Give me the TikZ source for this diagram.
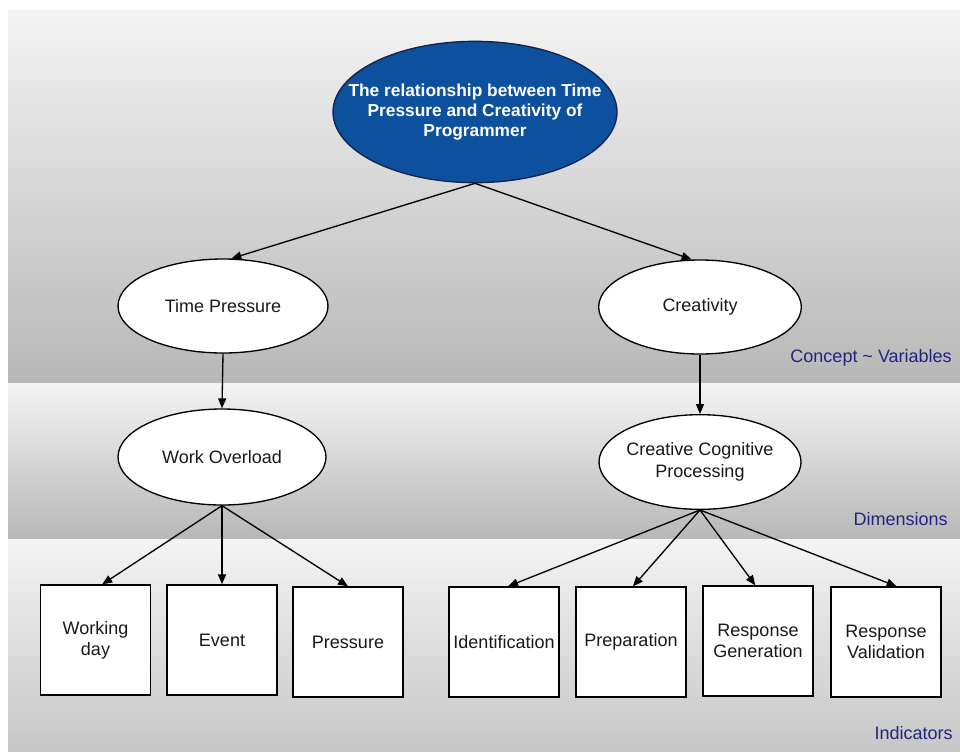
\documentclass[tikz,border=0pt]{standalone}
\usepackage{fontspec}
\setmainfont{Liberation Sans}
\usetikzlibrary{shapes.geometric,arrows.meta}
\definecolor{titleblue}{RGB}{12,80,158}
\definecolor{titleedge}{RGB}{18,36,78}
\definecolor{tierlabel}{RGB}{36,36,128}
\definecolor{bandtop}{gray}{0.955}
\definecolor{bandbottom}{gray}{0.72}
\definecolor{bandlow}{gray}{0.78}
\begin{document}
\begin{tikzpicture}[x=0.75pt,y=-0.75pt,
  oval/.style={ellipse,draw=black,line width=1pt,fill=white,inner sep=0pt,
    font=\fontsize{13.5}{16}\selectfont,text=black!90,align=center},
  leaf/.style={rectangle,draw=black,line width=1pt,fill=white,
    minimum width=82.5pt,minimum height=82.5pt,inner sep=0pt,
    font=\fontsize{13.5}{16}\selectfont,text=black!90,align=center},
  link/.style={line width=1pt,-{Triangle[length=7.5pt,width=6pt]}},
  tier/.style={font=\fontsize{13.5}{16}\selectfont,text=tierlabel,anchor=east,inner sep=0pt}]
\useasboundingbox (0,0) rectangle (960,751);
\fill[white] (0,0) rectangle (960,751);

% three horizontal bands
\shade[top color=bandtop,bottom color=bandbottom] (8,10) rectangle (960,383);
\shade[top color=bandtop,bottom color=bandbottom] (8,383) rectangle (960,539);
\shade[top color=bandtop,bottom color=bandlow] (8,539) rectangle (960,751);

% band labels
\node[tier] (lconcept) at (952,358) {Concept \textasciitilde\ Variables};
\node[tier] (ldim) at (948,519) {Dimensions};
\node[tier] (lind) at (953,733) {Indicators};

% root concept: the ellipse is sized by hand, its title is set on top
\node[oval,fill=titleblue,draw=titleedge,
  minimum width=213pt,minimum height=106pt] (root) at (475,112) {};
\node[text=white,align=center,inner sep=0pt,
  font=\bfseries\fontsize{13}{15}\selectfont] (roottitle) at (root.center)
  {The relationship between Time\\Pressure and Creativity of\\Programmer};

% variables
\node[oval,minimum width=157.5pt,minimum height=70.5pt] (tp) at (223,306) {Time Pressure};
\node[oval,minimum width=152pt,minimum height=70.5pt] (cr) at (700,307) {Creativity};

% dimensions
\node[oval,minimum width=156pt,minimum height=72pt] (wo) at (222,457) {Work Overload};
\node[oval,minimum width=151.5pt,minimum height=71pt] (ccp) at (700,462) {};
\node[align=center,inner sep=0pt,text=black!90,
  font=\fontsize{13.5}{16}\selectfont] (ccptext) at (ccp.center) {Creative Cognitive\\Processing};

% indicators
\node[leaf] (wd) at (95.5,640) {Working\\day};
\node[leaf] (ev) at (222,640) {Event};
\node[leaf] (pr) at (348,642) {Pressure};
\node[leaf] (id) at (504,642) {Identification};
\node[leaf] (pp) at (631,642) {Preparation};
\node[leaf] (rg) at (758,641) {Response\\Generation};
\node[leaf] (rv) at (886,642) {Response\\Validation};

% connectors
\draw[link] (root.south) -- (tp.80);
\draw[link] (root.south) -- (cr.100);
\draw[link] (tp.south) -- (wo.north);
\draw[link] (cr.south) -- (ccp.north);
\draw[link] (wo.south) -- ([xshift=5pt]wd.north);
\draw[link] (wo.south) -- (ev.north);
\draw[link] (wo.south) -- (pr.north);
\draw[link] (ccp.south) -- ([xshift=3pt]id.north);
\draw[link] (ccp.south) -- ([xshift=1.5pt]pp.north);
\draw[link] (ccp.south) -- ([xshift=-2pt]rg.north);
\draw[link] (ccp.south) -- ([xshift=8pt]rv.north);
\end{tikzpicture}
\end{document}
